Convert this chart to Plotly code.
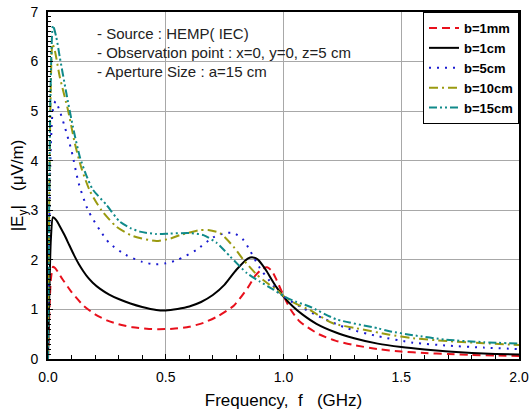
import plotly.graph_objects as go

# ---- data ----
f_1mm = [0, 0.005, 0.012, 0.022, 0.036, 0.06, 0.1, 0.15, 0.2, 0.25, 0.3, 0.36, 0.42, 0.47, 0.53, 0.6, 0.66,
         0.72, 0.79, 0.85, 0.88, 0.91, 0.93, 0.95, 0.97, 1.0, 1.03, 1.07, 1.15, 1.22, 1.3, 1.4, 1.5, 1.6, 1.7,
         1.8, 1.9, 2.0]
e_1mm = [0, 0.8, 1.6, 1.86, 1.80, 1.62, 1.35, 1.08, 0.90, 0.78, 0.70, 0.64, 0.61, 0.60, 0.61, 0.65, 0.73,
         0.86, 1.08, 1.45, 1.68, 1.82, 1.85, 1.78, 1.6, 1.28, 1.0, 0.75, 0.50, 0.37, 0.28, 0.2, 0.15, 0.12, 0.1,
         0.08, 0.07, 0.06]

f_1cm = [0, 0.005, 0.012, 0.021, 0.035, 0.05, 0.07, 0.09, 0.11, 0.13, 0.15, 0.17, 0.19, 0.22, 0.26, 0.3,
         0.35, 0.4, 0.46, 0.5, 0.55, 0.6, 0.65, 0.7, 0.75, 0.8, 0.85, 0.87, 0.89, 0.91, 0.93, 0.95, 0.97, 1.0,
         1.04, 1.08, 1.14, 1.22, 1.3, 1.4, 1.5, 1.6, 1.7, 1.8, 1.9, 2.0]
e_1cm = [0, 1.2, 2.4, 2.86, 2.80, 2.68, 2.5, 2.3, 2.1, 1.92, 1.77, 1.64, 1.54, 1.42, 1.30, 1.21,
         1.12, 1.05, 0.99, 0.98, 1.01, 1.06, 1.15, 1.29, 1.5, 1.80, 2.03, 2.05, 2.01, 1.9, 1.76, 1.6, 1.45, 1.26,
         1.06, 0.9, 0.71, 0.54, 0.42, 0.31, 0.24, 0.19, 0.15, 0.12, 0.1, 0.09]

f_5cm = [0, 0.004, 0.01, 0.02, 0.032, 0.05, 0.07, 0.1, 0.13, 0.17, 0.22, 0.26, 0.33, 0.4, 0.45, 0.5, 0.55,
         0.63, 0.7, 0.75, 0.79, 0.83, 0.86, 0.9, 0.94, 0.97, 1.0, 1.07, 1.15, 1.27, 1.4, 1.55, 1.7, 1.85, 2.0]
e_5cm = [0, 2.0, 4.0, 5.0, 5.2, 5.0, 4.7, 4.2, 3.55, 3.0, 2.6, 2.34, 2.1, 1.96, 1.91, 1.93, 2.0,
         2.2, 2.45, 2.54, 2.54, 2.4, 2.17, 1.83, 1.58, 1.4, 1.26, 1.06, 0.86, 0.62, 0.46, 0.33, 0.27, 0.23, 0.2]

f_10cm = [0, 0.004, 0.01, 0.019, 0.03, 0.05, 0.085, 0.114, 0.142, 0.177, 0.227, 0.29, 0.35, 0.39, 0.46,
          0.52, 0.56, 0.6, 0.645, 0.68, 0.73, 0.787, 0.83, 0.887, 0.94, 0.972, 1.0, 1.05, 1.11, 1.21, 1.31,
          1.45, 1.55, 1.7, 1.85, 2.0]
e_10cm = [0, 2.5, 5.0, 6.36, 6.2, 5.69, 5.02, 4.35, 3.85, 3.4, 3.0, 2.67, 2.5, 2.44, 2.38,
          2.43, 2.50, 2.55, 2.6, 2.6, 2.54, 2.27, 2.0, 1.70, 1.5, 1.40, 1.27, 1.12, 0.99, 0.72, 0.62,
          0.49, 0.42, 0.36, 0.32, 0.28]

f_15cm = [0, 0.004, 0.01, 0.021, 0.035, 0.05, 0.078, 0.106, 0.135, 0.163, 0.19, 0.248, 0.305, 0.35, 0.39,
          0.46, 0.518, 0.6, 0.66, 0.717, 0.773, 0.845, 0.9, 0.957, 1.0, 1.05, 1.11, 1.225, 1.4, 1.45, 1.55,
          1.69, 1.85, 2.0]
e_15cm = [0, 2.5, 5.2, 6.73, 6.5, 6.09, 5.36, 4.68, 4.08, 3.7, 3.42, 3.11, 2.77, 2.64, 2.57,
          2.52, 2.53, 2.54, 2.5, 2.34, 2.07, 1.73, 1.56, 1.40, 1.27, 1.16, 1.06, 0.80, 0.62, 0.56, 0.48,
          0.39, 0.34, 0.31]

series_names = ["b=1mm", "b=1cm", "b=5cm", "b=10cm", "b=15cm"]
x_ticks = [0.0, 0.5, 1.0, 1.5, 2.0]
y_ticks = [0, 1, 2, 3, 4, 5, 6, 7]
notes = ["- Source : HEMP( IEC)",
         "- Observation point : x=0, y=0, z=5 cm",
         "- Aperture Size : a=15 cm"]

styles = [
    dict(color="#e8101c", dash="8px,5px", width=2),
    dict(color="black", dash="solid", width=2),
    dict(color="#1a1ad0", dash="2px,6px", width=2),
    dict(color="#9a9a10", dash="9px,4px,2px,4px", width=2),
    dict(color="#108a8a", dash="8px,3px,2px,3px,2px,3px", width=2),
]
xs = [f_1mm, f_1cm, f_5cm, f_10cm, f_15cm]
ys = [e_1mm, e_1cm, e_5cm, e_10cm, e_15cm]

fig = go.Figure()
for name, x, y, st in zip(series_names, xs, ys, styles):
    fig.add_trace(go.Scatter(x=x, y=y, mode="lines", name=name, line=dict(shape="spline", smoothing=0.6, **st)))

font_family = "Liberation Sans, Arial, sans-serif"
for i, t in enumerate(notes):
    fig.add_annotation(x=0.2, y=6.57 - i * 0.39, xref="x", yref="y", text=t, showarrow=False,
                       xanchor="left", yanchor="middle",
                       font=dict(family=font_family, size=15, color="#222"))

fig.update_layout(
    width=529, height=414,
    margin=dict(l=48, r=10, t=12, b=55, autoexpand=False),
    paper_bgcolor="white", plot_bgcolor="white",
    font=dict(family=font_family, size=14, color="black"),
    showlegend=True,
    legend=dict(x=1, y=1, xanchor="right", yanchor="top", bordercolor="black", borderwidth=1,
                bgcolor="white", font=dict(family=font_family, size=13, color="black", weight="bold"),
                itemwidth=30, tracegroupgap=0),
    xaxis=dict(range=[0, 2.0], tickvals=x_ticks, ticktext=[f"{v:.1f}" for v in x_ticks],
               showgrid=True, gridcolor="#a8a8a8", gridwidth=1, automargin=False,
               ticklabeloverflow="allow",
               showline=True, linecolor="black", linewidth=2, mirror=True,
               ticks="inside", ticklen=5, tickcolor="black", ticklabelstandoff=4,
               minor=dict(dtick=0.1, tick0=0, ticks="inside", ticklen=4, tickcolor="black", showgrid=False),
               zeroline=False,
               title=dict(text="Frequency,  f   (GHz)", font=dict(size=17), standoff=10)),
    yaxis=dict(range=[0, 7], tickvals=y_ticks,
               showgrid=True, gridcolor="#a8a8a8", gridwidth=1, automargin=False,
               showline=True, linecolor="black", linewidth=2, mirror=True,
               ticks="inside", ticklen=5, tickcolor="black", ticklabelstandoff=5,
               minor=dict(dtick=0.1, tick0=0, ticks="inside", ticklen=3, tickcolor="black", showgrid=False),
               zeroline=False,
               title=dict(text="|E<sub>y</sub>|   (μV/m)", font=dict(size=17), standoff=2)),
)

fig.write_html("out.html")
